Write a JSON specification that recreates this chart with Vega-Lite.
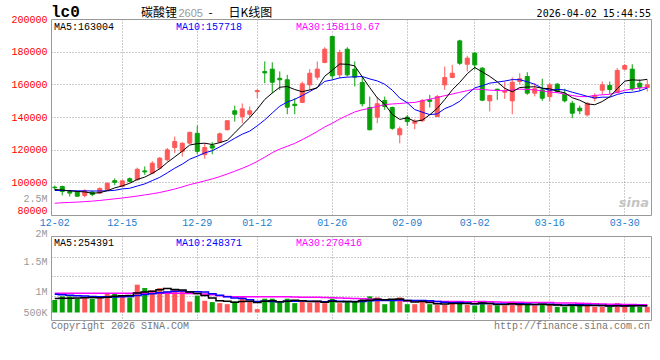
{
"$schema": "https://vega.github.io/schema/vega-lite/v6.json",
"background": "white",
"padding": {"left": 10, "top": 3, "right": 0, "bottom": 0},
"bounds": "flush",
"spacing": 21,
"config": {
  "view": {"stroke": "#999", "strokeWidth": 1},
  "axis": {"labelFont": "Liberation Mono", "labelFontSize": 10, "ticks": false, "tickSize": 0, "domain": false, "gridColor": "#999", "gridDash": [1, 2], "gridWidth": 1, "labelOverlap": false}
},
"datasets": {
"k": [
{"d":"12-02","o":97000,"h":98000,"l":95400,"c":96700,"v":480000,"m5":95600,"m10":95000,"m30":87200,"vm5":540000,"vm10":700000,"vm30":745000},
{"d":"12-03","o":97400,"h":98000,"l":92000,"c":94400,"v":620000,"m5":95300,"m10":95000,"m30":87500,"vm5":545000,"vm10":680000,"vm30":745000},
{"d":"12-04","o":94400,"h":95400,"l":91300,"c":93400,"v":620000,"m5":94800,"m10":94900,"m30":87700,"vm5":550000,"vm10":660000,"vm30":745000},
{"d":"12-05","o":94000,"h":94500,"l":91200,"c":91500,"v":530000,"m5":94400,"m10":94800,"m30":87900,"vm5":555000,"vm10":640000,"vm30":745000},
{"d":"12-08","o":92000,"h":95800,"l":90800,"c":94700,"v":580000,"m5":94140,"m10":94800,"m30":88200,"vm5":566000,"vm10":630000,"vm30":745000},
{"d":"12-09","o":94000,"h":94800,"l":91500,"c":92500,"v":530000,"m5":93300,"m10":94700,"m30":88500,"vm5":576000,"vm10":620000,"vm30":745000},
{"d":"12-10","o":93400,"h":96800,"l":92800,"c":96300,"v":580000,"m5":93680,"m10":94700,"m30":88900,"vm5":568000,"vm10":610000,"vm30":745000},
{"d":"12-11","o":95500,"h":100000,"l":95000,"c":99400,"v":720000,"m5":94880,"m10":94800,"m30":89400,"vm5":588000,"vm10":605000,"vm30":745000},
{"d":"12-12","o":101000,"h":102400,"l":98300,"c":100000,"v":720000,"m5":96580,"m10":95100,"m30":89900,"vm5":626000,"vm10":600000,"vm30":745000},
{"d":"12-15","o":97500,"h":101500,"l":97000,"c":100900,"v":650000,"m5":97820,"m10":95980,"m30":90400,"vm5":640000,"vm10":603000,"vm30":745000},
{"d":"12-16","o":102200,"h":103000,"l":100000,"c":100600,"v":580000,"m5":99440,"m10":96370,"m30":91000,"vm5":650000,"vm10":613000,"vm30":745000},
{"d":"12-17","o":101600,"h":109000,"l":101000,"c":108000,"v":1070000,"m5":101780,"m10":97730,"m30":91600,"vm5":748000,"vm10":658000,"vm30":742000},
{"d":"12-18","o":107000,"h":109700,"l":104600,"c":106400,"v":940000,"m5":103180,"m10":99030,"m30":92300,"vm5":792000,"vm10":690000,"vm30":742000},
{"d":"12-19","o":105600,"h":113000,"l":105000,"c":111700,"v":850000,"m5":105520,"m10":101050,"m30":93000,"vm5":818000,"vm10":722000,"vm30":740000},
{"d":"12-22","o":108700,"h":115500,"l":108000,"c":114800,"v":940000,"m5":108300,"m10":103060,"m30":93800,"vm5":876000,"vm10":758000,"vm30":740000},
{"d":"12-23","o":113800,"h":121000,"l":112800,"c":119900,"v":810000,"m5":112160,"m10":105800,"m30":94800,"vm5":922000,"vm10":786000,"vm30":740000},
{"d":"12-24","o":121300,"h":128000,"l":118000,"c":125000,"v":900000,"m5":115560,"m10":108670,"m30":95900,"vm5":888000,"vm10":818000,"vm30":738000},
{"d":"12-25","o":119000,"h":124500,"l":115800,"c":123900,"v":850000,"m5":119060,"m10":111120,"m30":97200,"vm5":870000,"vm10":831000,"vm30":738000},
{"d":"12-26","o":124000,"h":131000,"l":123500,"c":130600,"v":420000,"m5":122840,"m10":114180,"m30":98600,"vm5":784000,"vm10":801000,"vm30":735000},
{"d":"12-29","o":130000,"h":134800,"l":117200,"c":119000,"v":650000,"m5":123680,"m10":115990,"m30":99700,"vm5":726000,"vm10":801000,"vm30":730000},
{"d":"12-30","o":117000,"h":124000,"l":114500,"c":121300,"v":450000,"m5":123960,"m10":118060,"m30":100900,"vm5":654000,"vm10":788000,"vm30":715000},
{"d":"12-31","o":122500,"h":124600,"l":117200,"c":121000,"v":400000,"m5":123160,"m10":119360,"m30":102100,"vm5":554000,"vm10":721000,"vm30":680000},
{"d":"01-05","o":124600,"h":130500,"l":124000,"c":129700,"v":360000,"m5":124320,"m10":121690,"m30":103500,"vm5":456000,"vm10":663000,"vm30":640000},
{"d":"01-06","o":132200,"h":138000,"l":131800,"c":137700,"v":320000,"m5":125740,"m10":124290,"m30":105100,"vm5":436000,"vm10":610000,"vm30":615000},
{"d":"01-07","o":143800,"h":147000,"l":137200,"c":141700,"v":420000,"m5":130280,"m10":126980,"m30":106800,"vm5":390000,"vm10":558000,"vm30":610000},
{"d":"01-08","o":140300,"h":148300,"l":136200,"c":145000,"v":620000,"m5":135020,"m10":129490,"m30":108600,"vm5":424000,"vm10":539000,"vm30":610000},
{"d":"01-09","o":141700,"h":146400,"l":139700,"c":143800,"v":450000,"m5":139580,"m10":131370,"m30":110500,"vm5":434000,"vm10":494000,"vm30":608000},
{"d":"01-12","o":155500,"h":157000,"l":151500,"c":156200,"v":130000,"m5":144880,"m10":134600,"m30":112800,"vm5":388000,"vm10":422000,"vm30":605000},
{"d":"01-13","o":167800,"h":174000,"l":160700,"c":167000,"v":530000,"m5":150740,"m10":138240,"m30":115400,"vm5":430000,"vm10":433000,"vm30":605000},
{"d":"01-14","o":169300,"h":173500,"l":154600,"c":161300,"v":530000,"m5":154660,"m10":142470,"m30":118150,"vm5":452000,"vm10":421000,"vm30":608000},
{"d":"01-15","o":163700,"h":167900,"l":156600,"c":162800,"v":420000,"m5":158220,"m10":146620,"m30":120350,"vm5":412000,"vm10":418000,"vm30":606000},
{"d":"01-16","o":162800,"h":165800,"l":141700,"c":146000,"v":530000,"m5":158660,"m10":149120,"m30":122070,"vm5":428000,"vm10":431000,"vm30":603000},
{"d":"01-19","o":147800,"h":151500,"l":141700,"c":147000,"v":360000,"m5":156820,"m10":150850,"m30":123860,"vm5":474000,"vm10":431000,"vm30":595000},
{"d":"01-20","o":148900,"h":161700,"l":148500,"c":160300,"v":420000,"m5":155480,"m10":153110,"m30":126150,"vm5":452000,"vm10":441000,"vm30":591000},
{"d":"01-21","o":159700,"h":169300,"l":156600,"c":166800,"v":380000,"m5":156580,"m10":155620,"m30":128550,"vm5":422000,"vm10":437000,"vm30":584000},
{"d":"01-22","o":164400,"h":174000,"l":162800,"c":169300,"v":450000,"m5":157880,"m10":158050,"m30":131110,"vm5":428000,"vm10":420000,"vm30":582000},
{"d":"01-23","o":173400,"h":182700,"l":172900,"c":181500,"v":360000,"m5":164980,"m10":161820,"m30":133950,"vm5":394000,"vm10":411000,"vm30":574000},
{"d":"01-26","o":189300,"h":189500,"l":163100,"c":165200,"v":530000,"m5":168620,"m10":162720,"m30":136150,"vm5":428000,"vm10":451000,"vm30":568000},
{"d":"01-27","o":165800,"h":181100,"l":163700,"c":179500,"v":360000,"m5":172460,"m10":163970,"m30":138800,"vm5":416000,"vm10":434000,"vm30":556000},
{"d":"01-28","o":181500,"h":182700,"l":164800,"c":165800,"v":420000,"m5":172260,"m10":164420,"m30":140960,"vm5":424000,"vm10":423000,"vm30":548000},
{"d":"01-29","o":169300,"h":174000,"l":158700,"c":164400,"v":420000,"m5":171280,"m10":164580,"m30":143090,"vm5":418000,"vm10":423000,"vm30":543000},
{"d":"01-30","o":161100,"h":164800,"l":146400,"c":148100,"v":530000,"m5":164600,"m10":164790,"m30":144420,"vm5":452000,"vm10":423000,"vm30":525000},
{"d":"02-02","o":145800,"h":152500,"l":131800,"c":132200,"v":620000,"m5":158000,"m10":163310,"m30":145280,"vm5":470000,"vm10":449000,"vm30":514000},
{"d":"02-03","o":139900,"h":152100,"l":136200,"c":148100,"v":580000,"m5":151720,"m10":162090,"m30":146500,"vm5":514000,"vm10":465000,"vm30":505000},
{"d":"02-04","o":150100,"h":152500,"l":144400,"c":146400,"v":320000,"m5":147840,"m10":160050,"m30":147550,"vm5":494000,"vm10":459000,"vm30":485000},
{"d":"02-05","o":145800,"h":146400,"l":132200,"c":133100,"v":490000,"m5":141580,"m10":156430,"m30":147990,"vm5":508000,"vm10":463000,"vm30":474000},
{"d":"02-06","o":129100,"h":134200,"l":123900,"c":132800,"v":580000,"m5":138520,"m10":151560,"m30":148250,"vm5":518000,"vm10":485000,"vm30":463000},
{"d":"02-09","o":139900,"h":141300,"l":134600,"c":137200,"v":320000,"m5":139520,"m10":148760,"m30":148690,"vm5":458000,"vm10":464000,"vm30":446000},
{"d":"02-10","o":136200,"h":138600,"l":132500,"c":137200,"v":320000,"m5":137340,"m10":144530,"m30":148910,"vm5":406000,"vm10":460000,"vm30":442000},
{"d":"02-11","o":137700,"h":151000,"l":137000,"c":150000,"v":400000,"m5":138060,"m10":142950,"m30":149950,"vm5":422000,"vm10":458000,"vm30":434000},
{"d":"02-12","o":150500,"h":153600,"l":145800,"c":149600,"v":320000,"m5":141360,"m10":141470,"m30":150890,"vm5":388000,"vm10":448000,"vm30":430000},
{"d":"02-13","o":140300,"h":153500,"l":140000,"c":152500,"v":300000,"m5":145300,"m10":141910,"m30":151940,"vm5":332000,"vm10":425000,"vm30":426000},
{"d":"02-24","o":159700,"h":170900,"l":156600,"c":164200,"v":300000,"m5":150700,"m10":145110,"m30":153090,"vm5":328000,"vm10":393000,"vm30":424000},
{"d":"02-25","o":164200,"h":171900,"l":163700,"c":166800,"v":400000,"m5":156620,"m10":146980,"m30":154060,"vm5":344000,"vm10":375000,"vm30":427000},
{"d":"02-26","o":186600,"h":187300,"l":171900,"c":172900,"v":420000,"m5":161200,"m10":149630,"m30":155100,"vm5":348000,"vm10":385000,"vm30":427000},
{"d":"02-27","o":172300,"h":177500,"l":167900,"c":176000,"v":300000,"m5":166480,"m10":153920,"m30":156130,"vm5":344000,"vm10":366000,"vm30":416000},
{"d":"03-02","o":179100,"h":179700,"l":168900,"c":171900,"v":270000,"m5":170360,"m10":157830,"m30":157070,"vm5":338000,"vm10":335000,"vm30":410000},
{"d":"03-03","o":169900,"h":170500,"l":149700,"c":150300,"v":420000,"m5":167580,"m10":159140,"m30":156870,"vm5":362000,"vm10":345000,"vm30":420000},
{"d":"03-04","o":149900,"h":153600,"l":143400,"c":153200,"v":300000,"m5":164860,"m10":160740,"m30":156410,"vm5":342000,"vm10":343000,"vm30":412000},
{"d":"03-05","o":157000,"h":157300,"l":150500,"c":156400,"v":270000,"m5":161560,"m10":161380,"m30":156250,"vm5":312000,"vm10":330000,"vm30":404000},
{"d":"03-06","o":155200,"h":161700,"l":151100,"c":156000,"v":270000,"m5":157560,"m10":162020,"m30":156020,"vm5":306000,"vm10":325000,"vm30":399000},
{"d":"03-09","o":149900,"h":164200,"l":141700,"c":161300,"v":420000,"m5":155440,"m10":162900,"m30":156530,"vm5":336000,"vm10":337000,"vm30":395000},
{"d":"03-10","o":161700,"h":166800,"l":160100,"c":163400,"v":300000,"m5":158060,"m10":162820,"m30":157080,"vm5":312000,"vm10":337000,"vm30":393000},
{"d":"03-11","o":164800,"h":167400,"l":153600,"c":154600,"v":300000,"m5":158340,"m10":161600,"m30":156890,"vm5":312000,"vm10":327000,"vm30":389000},
{"d":"03-12","o":154600,"h":160700,"l":152600,"c":157300,"v":270000,"m5":158520,"m10":160040,"m30":156570,"vm5":312000,"vm10":312000,"vm30":385000},
{"d":"03-13","o":156600,"h":163400,"l":149900,"c":151500,"v":320000,"m5":157620,"m10":157590,"m30":155980,"vm5":322000,"vm10":314000,"vm30":381000},
{"d":"03-16","o":152500,"h":160700,"l":149500,"c":159700,"v":320000,"m5":157300,"m10":156370,"m30":155250,"vm5":302000,"vm10":319000,"vm30":380000},
{"d":"03-17","o":160100,"h":160700,"l":154600,"c":155600,"v":220000,"m5":155740,"m10":156900,"m30":154930,"vm5":286000,"vm10":299000,"vm30":369000},
{"d":"03-18","o":154000,"h":157300,"l":148900,"c":149900,"v":220000,"m5":154800,"m10":156570,"m30":153950,"vm5":270000,"vm10":291000,"vm30":365000},
{"d":"03-19","o":148400,"h":149900,"l":139300,"c":142300,"v":300000,"m5":151800,"m10":155160,"m30":153160,"vm5":276000,"vm10":294000,"vm30":361000},
{"d":"03-20","o":145400,"h":147000,"l":141700,"c":143800,"v":300000,"m5":150260,"m10":153940,"m30":152480,"vm5":272000,"vm10":297000,"vm30":357000},
{"d":"03-23","o":141300,"h":149000,"l":140300,"c":148400,"v":300000,"m5":148000,"m10":152650,"m30":152490,"vm5":268000,"vm10":285000,"vm30":349000},
{"d":"03-24","o":151500,"h":154600,"l":149500,"c":153200,"v":220000,"m5":147520,"m10":151630,"m30":153190,"vm5":268000,"vm10":277000,"vm30":336000},
{"d":"03-25","o":156400,"h":161700,"l":153600,"c":159700,"v":220000,"m5":149480,"m10":152140,"m30":153570,"vm5":268000,"vm10":269000,"vm30":324000},
{"d":"03-26","o":159300,"h":161700,"l":154000,"c":156800,"v":220000,"m5":152380,"m10":152090,"m30":153920,"vm5":252000,"vm10":264000,"vm30":320000},
{"d":"03-27","o":155000,"h":169900,"l":154500,"c":168500,"v":360000,"m5":157320,"m10":153790,"m30":155100,"vm5":264000,"vm10":268000,"vm30":316000},
{"d":"03-30","o":169300,"h":172300,"l":168700,"c":171500,"v":220000,"m5":161940,"m10":154970,"m30":156390,"vm5":248000,"vm10":258000,"vm30":304000},
{"d":"03-31","o":169300,"h":172300,"l":156000,"c":157300,"v":300000,"m5":162760,"m10":155140,"m30":157060,"vm5":264000,"vm10":266000,"vm30":303000},
{"d":"04-01","o":160700,"h":163100,"l":156000,"c":158200,"v":220000,"m5":162460,"m10":155970,"m30":157760,"vm5":264000,"vm10":266000,"vm30":300000},
{"d":"04-02","o":158100,"h":162800,"l":155600,"c":159700,"v":220000,"m5":163040,"m10":157710,"m30":158080,"vm5":264000,"vm10":258000,"vm30":294000}
]
},
"vconcat": [
{
  "width": 600,
  "height": 196,
  "resolve": {"axis": {"x": "independent", "y": "independent"}},
  "layer": [
    {
      "data": {"name": "k"},
      "mark": {"type": "rule", "strokeWidth": 1},
      "encoding": {
        "x": {"field": "d", "type": "ordinal", "title": null, "sort": null,
          "scale": {"type": "band", "paddingInner": 0, "paddingOuter": 0, "domain": ["12-02","12-03","12-04","12-05","12-08","12-09","12-10","12-11","12-12","12-15","12-16","12-17","12-18","12-19","12-22","12-23","12-24","12-25","12-26","12-29","12-30","12-31","01-05","01-06","01-07","01-08","01-09","01-12","01-13","01-14","01-15","01-16","01-19","01-20","01-21","01-22","01-23","01-26","01-27","01-28","01-29","01-30","02-02","02-03","02-04","02-05","02-06","02-09","02-10","02-11","02-12","02-13","02-24","02-25","02-26","02-27","03-02","03-03","03-04","03-05","03-06","03-09","03-10","03-11","03-12","03-13","03-16","03-17","03-18","03-19","03-20","03-23","03-24","03-25","03-26","03-27","03-30","03-31","04-01","04-02"]},
          "axis": {"orient": "bottom", "values": ["12-02","12-15","12-29","01-12","01-26","02-09","03-02","03-16","03-30"], "bandPosition": 0.5, "labelAngle": 0, "labelColor": "#1a80d0", "labelPadding": 2, "grid": true,
            "gridOpacity": {"condition": {"test": "datum.value == '12-02'", "value": 0}, "value": 1}}},
        "y": {"field": "l", "type": "quantitative", "title": null,
          "scale": {"domain": [80000, 200000], "zero": false, "nice": false},
          "axis": {"orient": "left", "values": [80000, 89800, 100000, 120000, 140000, 160000, 180000, 200000], "format": "d",
            "labelExpr": "datum.value == 89800 ? '2.5M' : datum.label",
            "labelColor": {"condition": {"test": "datum.value == 89800", "value": "#999999"}, "value": "#ff0000"},
            "labelBaseline": {"condition": {"test": "datum.value == 80000", "value": "bottom"}, "value": "middle"},
            "labelPadding": 4, "grid": true,
            "gridOpacity": {"condition": {"test": "datum.value == 80000 || datum.value == 200000 || datum.value == 89800", "value": 0}, "value": 1}}},
        "y2": {"field": "h"},
        "color": {"condition": {"test": "datum.c >= datum.o", "value": "#ff5858"}, "value": "#08a008"}
      }
    },
    {
      "data": {"name": "k"},
      "mark": {"type": "bar", "width": 4, "strokeWidth": 1},
      "encoding": {
        "x": {"field": "d", "type": "ordinal", "sort": null, "axis": null},
        "y": {"field": "o", "type": "quantitative", "axis": null},
        "y2": {"field": "c"},
        "color": {"condition": {"test": "datum.c >= datum.o", "value": "#ff5858"}, "value": "#08a008"},
        "stroke": {"condition": {"test": "datum.c >= datum.o", "value": "#ff5858"}, "value": "#08a008"}
      }
    },
    {"data": {"name": "k"}, "mark": {"type": "line", "color": "#ff00ff", "strokeWidth": 1}, "encoding": {"x": {"field": "d", "type": "ordinal", "sort": null, "axis": null}, "y": {"field": "m30", "type": "quantitative", "axis": null}}},
    {"data": {"name": "k"}, "mark": {"type": "line", "color": "#0000ff", "strokeWidth": 1}, "encoding": {"x": {"field": "d", "type": "ordinal", "sort": null, "axis": null}, "y": {"field": "m10", "type": "quantitative", "axis": null}}},
    {"data": {"name": "k"}, "mark": {"type": "line", "color": "#000000", "strokeWidth": 1}, "encoding": {"x": {"field": "d", "type": "ordinal", "sort": null, "axis": null}, "y": {"field": "m5", "type": "quantitative", "axis": null}}},
    {"data": {"values": [{"t": "MA5:163004"}]}, "mark": {"type": "text", "align": "left", "baseline": "top", "dx": 3, "dy": 3, "font": "Liberation Mono", "fontSize": 10, "color": "#000000"},
     "encoding": {"x": {"datum": "12-02", "type": "ordinal", "bandPosition": 0, "axis": null}, "y": {"datum": 200000, "type": "quantitative", "axis": null}, "text": {"field": "t"}}},
    {"data": {"values": [{"t": "MA10:157718"}]}, "mark": {"type": "text", "align": "left", "baseline": "top", "dx": 5, "dy": 3, "font": "Liberation Mono", "fontSize": 10, "color": "#0000ff"},
     "encoding": {"x": {"datum": "12-24", "type": "ordinal", "bandPosition": 0, "axis": null}, "y": {"datum": 200000, "type": "quantitative", "axis": null}, "text": {"field": "t"}}},
    {"data": {"values": [{"t": "MA30:158110.67"}]}, "mark": {"type": "text", "align": "left", "baseline": "top", "dx": 5, "dy": 3, "font": "Liberation Mono", "fontSize": 10, "color": "#ff00ff"},
     "encoding": {"x": {"datum": "01-19", "type": "ordinal", "bandPosition": 0, "axis": null}, "y": {"datum": 200000, "type": "quantitative", "axis": null}, "text": {"field": "t"}}},
    {"data": {"values": [{"t": "lc0"}]}, "mark": {"type": "text", "align": "left", "baseline": "alphabetic", "dx": 0, "dy": -2, "font": "Liberation Mono", "fontSize": 16, "fontWeight": "bold", "color": "#000000"},
     "encoding": {"x": {"datum": "12-02", "type": "ordinal", "bandPosition": 0, "axis": null}, "y": {"datum": 200000, "type": "quantitative", "axis": null}, "text": {"field": "t"}}},
    {"data": {"values": [{"t": "碳酸锂"}]}, "mark": {"type": "text", "align": "left", "baseline": "alphabetic", "dy": -2, "font": "Noto Sans CJK SC", "fontSize": 12, "color": "#000000"},
     "encoding": {"x": {"datum": "12-18", "type": "ordinal", "bandPosition": 0, "axis": null}, "y": {"datum": 200000, "type": "quantitative", "axis": null}, "text": {"field": "t"}}},
    {"data": {"values": [{"t": "2605"}]}, "mark": {"type": "text", "align": "left", "baseline": "alphabetic", "dy": -2, "font": "Liberation Sans", "fontSize": 11, "color": "#999999"},
     "encoding": {"x": {"datum": "12-25", "type": "ordinal", "bandPosition": 0, "axis": null}, "y": {"datum": 200000, "type": "quantitative", "axis": null}, "text": {"field": "t"}}},
    {"data": {"values": [{"t": "-"}]}, "mark": {"type": "text", "align": "left", "baseline": "alphabetic", "dy": -2, "font": "Noto Sans CJK SC", "fontSize": 12, "color": "#000000"},
     "encoding": {"x": {"datum": "12-31", "type": "ordinal", "bandPosition": 0, "axis": null}, "y": {"datum": 200000, "type": "quantitative", "axis": null}, "text": {"field": "t"}}},
    {"data": {"values": [{"t": "日K线图"}]}, "mark": {"type": "text", "align": "left", "baseline": "alphabetic", "dx": 5, "dy": -2, "font": "Noto Sans CJK SC", "fontSize": 12, "color": "#000000"},
     "encoding": {"x": {"datum": "01-06", "type": "ordinal", "bandPosition": 0, "axis": null}, "y": {"datum": 200000, "type": "quantitative", "axis": null}, "text": {"field": "t"}}},
    {"data": {"values": [{"t": "2026-04-02 15:44:55"}]}, "mark": {"type": "text", "align": "right", "baseline": "alphabetic", "dy": -2, "font": "DejaVu Sans Mono", "fontSize": 10, "color": "#000000"},
     "encoding": {"x": {"datum": "04-02", "type": "ordinal", "bandPosition": 1, "axis": null}, "y": {"datum": 200000, "type": "quantitative", "axis": null}, "text": {"field": "t"}}},
    {"data": {"values": [{"t": "sina"}]}, "mark": {"type": "text", "align": "right", "baseline": "alphabetic", "dx": -2, "font": "DejaVu Sans", "fontSize": 13, "fontStyle": "italic", "fontWeight": "bold", "color": "#c4c4c4"},
     "encoding": {"x": {"datum": "04-02", "type": "ordinal", "bandPosition": 1, "axis": null}, "y": {"datum": 85200, "type": "quantitative", "axis": null}, "text": {"field": "t"}}}
  ]
},
{
  "width": 600,
  "height": 84,
  "resolve": {"axis": {"x": "independent", "y": "independent"}},
  "layer": [
    {
      "data": {"name": "k"},
      "mark": {"type": "bar", "width": 5},
      "encoding": {
        "x": {"field": "d", "type": "ordinal", "title": null, "sort": null,
          "scale": {"type": "band", "paddingInner": 0, "paddingOuter": 0, "domain": ["12-02","12-03","12-04","12-05","12-08","12-09","12-10","12-11","12-12","12-15","12-16","12-17","12-18","12-19","12-22","12-23","12-24","12-25","12-26","12-29","12-30","12-31","01-05","01-06","01-07","01-08","01-09","01-12","01-13","01-14","01-15","01-16","01-19","01-20","01-21","01-22","01-23","01-26","01-27","01-28","01-29","01-30","02-02","02-03","02-04","02-05","02-06","02-09","02-10","02-11","02-12","02-13","02-24","02-25","02-26","02-27","03-02","03-03","03-04","03-05","03-06","03-09","03-10","03-11","03-12","03-13","03-16","03-17","03-18","03-19","03-20","03-23","03-24","03-25","03-26","03-27","03-30","03-31","04-01","04-02"]},
          "axis": {"orient": "bottom", "values": ["12-02","12-15","12-29","01-12","01-26","02-09","03-02","03-16","03-30"], "bandPosition": 0.5, "labels": false, "grid": true,
            "gridOpacity": {"condition": {"test": "datum.value == '12-02'", "value": 0}, "value": 1}}},
        "y": {"field": "v", "type": "quantitative", "title": null,
          "scale": {"domain": [-288500, 2942300], "zero": false, "nice": false},
          "axis": {"orient": "left", "values": [11500, 807700, 1961500, 2942300], "grid": false,
            "labelExpr": "datum.value > 2900000 ? '2M' : datum.value > 1900000 ? '1.5M' : datum.value > 800000 ? '1M' : '500K'",
            "labelColor": "#999999", "labelPadding": 4,
            "labelBaseline": {"condition": {"test": "datum.value > 2900000", "value": "alphabetic"}, "value": "middle"}}},
        "color": {"condition": {"test": "datum.c >= datum.o", "value": "#ff5858"}, "value": "#08a008"}
      }
    },
    {"data": {"name": "k"}, "mark": {"type": "line", "color": "#ff00ff", "strokeWidth": 1.5, "interpolate": "step"},
     "encoding": {"x": {"field": "d", "type": "ordinal", "sort": null, "axis": null},
       "y": {"field": "vm30", "type": "quantitative", "title": null,
       "axis": {"orient": "left", "values": [615400, 1384600, 2153800], "labels": false, "grid": true}}}},
    {"data": {"name": "k"}, "mark": {"type": "line", "color": "#0000ff", "strokeWidth": 1.5, "interpolate": "step"}, "encoding": {"x": {"field": "d", "type": "ordinal", "sort": null, "axis": null}, "y": {"field": "vm10", "type": "quantitative", "axis": null}}},
    {"data": {"name": "k"}, "mark": {"type": "line", "color": "#000000", "strokeWidth": 1.5, "interpolate": "step"}, "encoding": {"x": {"field": "d", "type": "ordinal", "sort": null, "axis": null}, "y": {"field": "vm5", "type": "quantitative", "axis": null}}},
    {"data": {"values": [{"t": "MA5:254391"}]}, "mark": {"type": "text", "align": "left", "baseline": "top", "dx": 3, "dy": 2, "font": "Liberation Mono", "fontSize": 10, "color": "#000000"},
     "encoding": {"x": {"datum": "12-02", "type": "ordinal", "bandPosition": 0, "axis": null}, "y": {"datum": 2942300, "type": "quantitative", "axis": null}, "text": {"field": "t"}}},
    {"data": {"values": [{"t": "MA10:248371"}]}, "mark": {"type": "text", "align": "left", "baseline": "top", "dx": 5, "dy": 2, "font": "Liberation Mono", "fontSize": 10, "color": "#0000ff"},
     "encoding": {"x": {"datum": "12-24", "type": "ordinal", "bandPosition": 0, "axis": null}, "y": {"datum": 2942300, "type": "quantitative", "axis": null}, "text": {"field": "t"}}},
    {"data": {"values": [{"t": "MA30:270416"}]}, "mark": {"type": "text", "align": "left", "baseline": "top", "dx": 5, "dy": 2, "font": "Liberation Mono", "fontSize": 10, "color": "#ff00ff"},
     "encoding": {"x": {"datum": "01-19", "type": "ordinal", "bandPosition": 0, "axis": null}, "y": {"datum": 2942300, "type": "quantitative", "axis": null}, "text": {"field": "t"}}},
    {"data": {"values": [{"t": "Copyright 2026 SINA.COM"}]}, "mark": {"type": "text", "align": "left", "baseline": "top", "dx": 0, "dy": 1, "font": "Liberation Mono", "fontSize": 10, "color": "#777777"},
     "encoding": {"x": {"datum": "12-02", "type": "ordinal", "bandPosition": 0, "axis": null}, "y": {"datum": -288500, "type": "quantitative", "axis": null}, "text": {"field": "t"}}},
    {"data": {"values": [{"t": "http://finance.sina.com.cn"}]}, "mark": {"type": "text", "align": "right", "baseline": "top", "dx": -1, "dy": 1, "font": "Liberation Mono", "fontSize": 10, "color": "#777777"},
     "encoding": {"x": {"datum": "04-02", "type": "ordinal", "bandPosition": 1, "axis": null}, "y": {"datum": -288500, "type": "quantitative", "axis": null}, "text": {"field": "t"}}}
  ]
}
]
}
